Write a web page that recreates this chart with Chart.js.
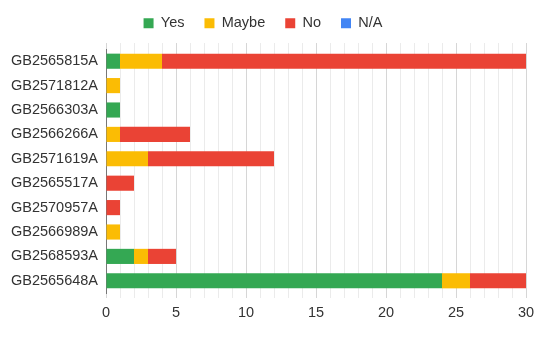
<!DOCTYPE html>
<html>
<head>
<meta charset="utf-8">
<script src="https://cdn.jsdelivr.net/npm/chart.js@4/dist/chart.umd.min.js"></script>
<style>
  html, body { margin: 0; padding: 0; background: #fff; }
  #wrap { width: 537px; height: 337px; position: relative; }
</style>
</head>
<body>
<div id="wrap"><canvas id="c" width="537" height="337"></canvas></div>
<script>
// Patent numbers and answer counts per category
const patents = ['GB2565815A', 'GB2571812A', 'GB2566303A', 'GB2566266A', 'GB2571619A',
                 'GB2565517A', 'GB2570957A', 'GB2566989A', 'GB2568593A', 'GB2565648A'];
const yesCounts   = [1, 0, 1, 0, 0, 0, 0, 0, 2, 24];
const maybeCounts = [3, 1, 0, 1, 3, 0, 0, 1, 1, 2];
const noCounts    = [26, 0, 0, 5, 9, 2, 1, 0, 2, 4];
const naCounts    = [0, 0, 0, 0, 0, 0, 0, 0, 0, 0];
const xTicks = [0, 5, 10, 15, 20, 25, 30];

const FONT = { family: "'Liberation Sans', Arial, sans-serif", size: 14.5 };
const TEXT = '#333333';

const mk = (label, data, color) => ({
  label, data, backgroundColor: color, borderWidth: 0,
  barPercentage: 0.62, categoryPercentage: 1.0
});

const gridColor = c => (c.tick && c.tick.value % 5 === 0) ? '#d6d6d6' : '#ebebeb';
const unitTicks = s => { s.ticks = Array.from({ length: 31 }, (_, i) => ({ value: i })); };

new Chart(document.getElementById('c'), {
  type: 'bar',
  data: {
    labels: patents,
    datasets: [
      mk('Yes', yesCounts, '#34a853'),
      mk('Maybe', maybeCounts, '#fbbc04'),
      mk('No', noCounts, '#ea4335'),
      mk('N/A', naCounts, '#4285f4')
    ]
  },
  options: {
    indexAxis: 'y',
    responsive: false,
    animation: false,
    layout: { padding: { top: -4, right: 11, bottom: 0, left: 0 } },
    plugins: {
      legend: {
        position: 'top',
        maxHeight: 40,
        labels: {
          boxWidth: 10, boxHeight: 10, padding: 20,
          color: TEXT, font: FONT
        }
      },
      tooltip: { enabled: false }
    },
    scales: {
      x: {
        stacked: true,
        min: 0, max: 30,
        position: 'bottom',
        afterBuildTicks: unitTicks,
        afterFit: s => { s.height = 44; s.paddingRight = 0; },
        grid: { color: gridColor, lineWidth: 1, drawTicks: true, tickLength: 5 },
        border: { display: false },
        ticks: {
          color: TEXT, font: FONT, padding: 6, autoSkip: false, maxRotation: 0,
          callback: v => xTicks.includes(v) ? String(v) : ''
        }
      },
      xTop: {
        type: 'linear',
        axis: 'x',
        position: 'top',
        min: 0, max: 30,
        afterBuildTicks: unitTicks,
        afterFit: s => { s.height = 13; s.paddingRight = 0; },
        grid: { drawOnChartArea: false, drawTicks: true, tickLength: 6, color: gridColor },
        border: { display: false },
        ticks: { display: false }
      },
      y: {
        stacked: true,
        afterFit: s => { s.width = 106; },
        grid: { display: false, drawTicks: false },
        border: { display: true, color: '#777777', width: 1 },
        ticks: { color: TEXT, font: FONT, padding: 8, autoSkip: false }
      }
    }
  }
});
</script>
</body>
</html>
